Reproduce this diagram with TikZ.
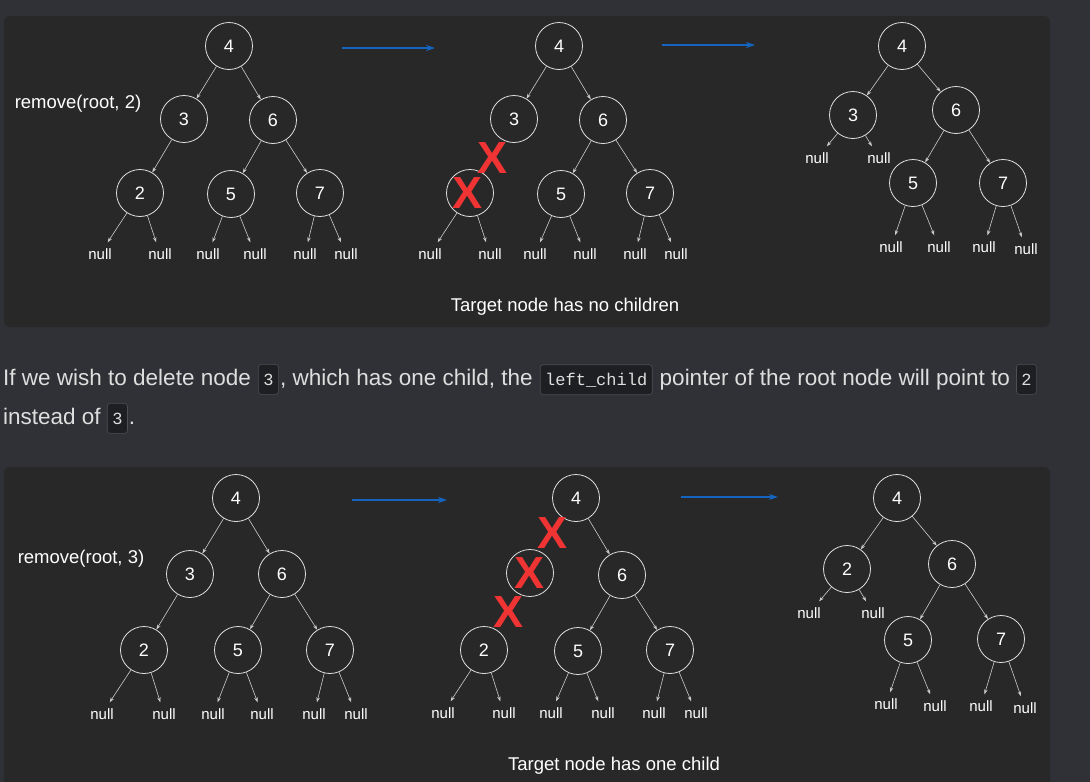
\documentclass[tikz,border=0pt]{standalone}
\usepackage{fontspec}
\setmainfont{Liberation Sans}
\setmonofont{Liberation Mono}
\usepackage{tikz}
\usetikzlibrary{arrows.meta}
\usetikzlibrary{positioning}

\definecolor{pagebg}{RGB}{48,49,54}
\definecolor{panelbg}{RGB}{40,40,40}
\definecolor{arrowblue}{RGB}{21,101,192}
\definecolor{crossred}{RGB}{240,52,52}
\definecolor{prosegray}{RGB}{222,222,222}
\definecolor{codebg}{RGB}{30,31,34}
\definecolor{codeline}{RGB}{78,78,84}

\tikzset{
  bstnode/.style={circle, draw=white!88!black, line width=0.8pt, minimum size=47pt,
    inner sep=0pt, text=white, font=\fontsize{18}{20}\selectfont},
  nullnode/.style={inner sep=6pt, text=white, font=\fontsize{15}{17}\selectfont},
  edge/.style={draw=white!80!black, line width=0.6pt, -{Stealth[length=5pt,width=3.5pt]}},
  flowarrow/.style={draw=arrowblue, line width=1.2pt, -{Stealth[length=9pt,width=6pt]}},
  cross/.style={inner sep=0pt, text=crossred, font=\fontsize{45}{45}\selectfont\bfseries},
  caption/.style={inner sep=0pt, text=white, font=\fontsize{18.5}{20}\selectfont},
  prose/.style={inner sep=0pt, text=prosegray, font=\fontsize{22.5}{26}\selectfont},
  code/.style={draw=codeline, fill=codebg, rounded corners=3pt, line width=0.6pt,
    inner xsep=5pt, inner ysep=0pt, minimum height=30pt, text=prosegray,
    font=\fontsize{17}{20}\ttfamily},
}

\begin{document}
\begin{tikzpicture}[x=1pt, y=-1pt]

  \useasboundingbox (0,0) rectangle (1090,782);
  \clip (0,0) rectangle (1090,782);
  \fill[pagebg] (0,0) rectangle (1090,782);
  \fill[panelbg, rounded corners=6pt] (4,16) rectangle (1050,327);
  \fill[panelbg, rounded corners=6pt] (4,467) rectangle (1050,800);

  % Top panel: remove(root, 2)
  \node[caption] (label2) at (78,104) {remove(root, 2)};

  \node[bstnode] (a4) at (229,46) {4};
  \node[bstnode] (a3) at (184,119) {3};
  \node[bstnode] (a6) at (273,120) {6};
  \node[bstnode] (a2) at (140,193) {2};
  \node[bstnode] (a5) at (231,194) {5};
  \node[bstnode] (a7) at (320,193) {7};
  \node[nullnode] (a2l) at (100,254) {null};
  \node[nullnode] (a2r) at (160,254) {null};
  \node[nullnode] (a5l) at (208,254) {null};
  \node[nullnode] (a5r) at (255,254) {null};
  \node[nullnode] (a7l) at (305,254) {null};
  \node[nullnode] (a7r) at (346,254) {null};

  \coordinate (ab1) at (342,48);
  \coordinate (ab2) at (435,48);

  \node[bstnode] (b4) at (559,46) {4};
  \node[bstnode] (b3) at (514,119) {3};
  \node[bstnode] (b6) at (603,120) {6};
  \node[bstnode] (b2) at (470,193) {};
  \node[bstnode] (b5) at (561,194) {5};
  \node[bstnode] (b7) at (650,193) {7};
  \node[nullnode] (b2l) at (430,254) {null};
  \node[nullnode] (b2r) at (490,254) {null};
  \node[nullnode] (b5l) at (535,254) {null};
  \node[nullnode] (b5r) at (585,254) {null};
  \node[nullnode] (b7l) at (635,254) {null};
  \node[nullnode] (b7r) at (676,254) {null};
  \node[cross] (bx1) at (493,158) {X};
  \node[cross] (bx2) at (468,193) {X};

  \coordinate (bc1) at (662,45);
  \coordinate (bc2) at (755,45);

  \node[bstnode] (c4) at (902,46) {4};
  \node[bstnode] (c3) at (853,115) {3};
  \node[bstnode] (c6) at (956,110) {6};
  \node[bstnode] (c5) at (913,183) {5};
  \node[bstnode] (c7) at (1003,183) {7};
  \node[nullnode] (c3l) at (817,158) {null};
  \node[nullnode] (c3r) at (879,158) {null};
  \node[nullnode] (c5l) at (891,247) {null};
  \node[nullnode] (c5r) at (939,247) {null};
  \node[nullnode] (c7l) at (984,247) {null};
  \node[nullnode] (c7r) at (1026,249) {null};

  \node[caption] (cap1) at (565,307) {Target node has no children};

  % Connect nodes
  \foreach \p/\c in {a4/a3, a4/a6, a3/a2, a6/a5, a6/a7, a2/a2l, a2/a2r, a5/a5l, a5/a5r, a7/a7l, a7/a7r,
                     b4/b3, b4/b6, b6/b5, b6/b7, b2/b2l, b2/b2r, b5/b5l, b5/b5r, b7/b7l, b7/b7r,
                     c4/c3, c4/c6, c3/c3l, c3/c3r, c6/c5, c6/c7, c5/c5l, c5/c5r, c7/c7l, c7/c7r}
    \draw[edge] (\p) -- (\c);
  \draw[flowarrow] (ab1) -- (ab2);
  \draw[flowarrow] (bc1) -- (bc2);

  % Text between the panels
  \node[prose, anchor=base west] (t1) at (3,385) {If we wish to delete node};
  \node[code, base right=7pt of t1] (k1) {3};
  \node[prose, base right=1pt of k1] (t2) {, which has one child, the};
  \node[code, base right=7pt of t2] (k2) {left\_child};
  \node[prose, base right=7pt of k2] (t3) {pointer of the root node will point to};
  \node[code, base right=6pt of t3] (k3) {2};
  \node[prose, anchor=base west] (t4) at (3,424) {instead of};
  \node[code, base right=6pt of t4] (k4) {3};
  \node[prose, base right=1pt of k4] (t5) {.};

  % Bottom panel: remove(root, 3)
  \node[caption] (label3) at (81,559) {remove(root, 3)};

  \node[bstnode] (d4) at (236,498) {4};
  \node[bstnode] (d3) at (190,574) {3};
  \node[bstnode] (d6) at (282,574) {6};
  \node[bstnode] (d2) at (144,650) {2};
  \node[bstnode] (d5) at (238,650) {5};
  \node[bstnode] (d7) at (330,650) {7};
  \node[nullnode] (d2l) at (102,714) {null};
  \node[nullnode] (d2r) at (164,714) {null};
  \node[nullnode] (d5l) at (213,714) {null};
  \node[nullnode] (d5r) at (262,714) {null};
  \node[nullnode] (d7l) at (314,714) {null};
  \node[nullnode] (d7r) at (356,714) {null};

  \coordinate (de1) at (352,500);
  \coordinate (de2) at (447,500);

  \node[bstnode] (e4) at (576,498) {4};
  \node[bstnode] (e3) at (530,573) {};
  \node[bstnode] (e6) at (622,575) {6};
  \node[bstnode] (e2) at (484,650) {2};
  \node[bstnode] (e5) at (578,651) {5};
  \node[bstnode] (e7) at (670,650) {7};
  \node[nullnode] (e2l) at (443,713) {null};
  \node[nullnode] (e2r) at (504,713) {null};
  \node[nullnode] (e5l) at (551,713) {null};
  \node[nullnode] (e5r) at (603,713) {null};
  \node[nullnode] (e7l) at (654,713) {null};
  \node[nullnode] (e7r) at (696,713) {null};
  \node[cross] (ex1) at (553,533) {X};
  \node[cross] (ex2) at (530,573) {X};
  \node[cross] (ex3) at (509,612) {X};

  \coordinate (ef1) at (681,497);
  \coordinate (ef2) at (778,497);

  \node[bstnode] (f4) at (897,498) {4};
  \node[bstnode] (f2) at (847,569) {2};
  \node[bstnode] (f6) at (952,564) {6};
  \node[bstnode] (f5) at (908,640) {5};
  \node[bstnode] (f7) at (1001,639) {7};
  \node[nullnode] (f2l) at (809,613) {null};
  \node[nullnode] (f2r) at (873,613) {null};
  \node[nullnode] (f5l) at (886,704) {null};
  \node[nullnode] (f5r) at (935,706) {null};
  \node[nullnode] (f7l) at (981,706) {null};
  \node[nullnode] (f7r) at (1025,708) {null};

  \node[caption] (cap2) at (614,766) {Target node has one child};

  % Connect nodes
  \foreach \p/\c in {d4/d3, d4/d6, d3/d2, d6/d5, d6/d7, d2/d2l, d2/d2r, d5/d5l, d5/d5r, d7/d7l, d7/d7r,
                     e4/e6, e6/e5, e6/e7, e2/e2l, e2/e2r, e5/e5l, e5/e5r, e7/e7l, e7/e7r,
                     f4/f2, f4/f6, f2/f2l, f2/f2r, f6/f5, f6/f7, f5/f5l, f5/f5r, f7/f7l, f7/f7r}
    \draw[edge] (\p) -- (\c);
  \draw[flowarrow] (de1) -- (de2);
  \draw[flowarrow] (ef1) -- (ef2);

\end{tikzpicture}
\end{document}
